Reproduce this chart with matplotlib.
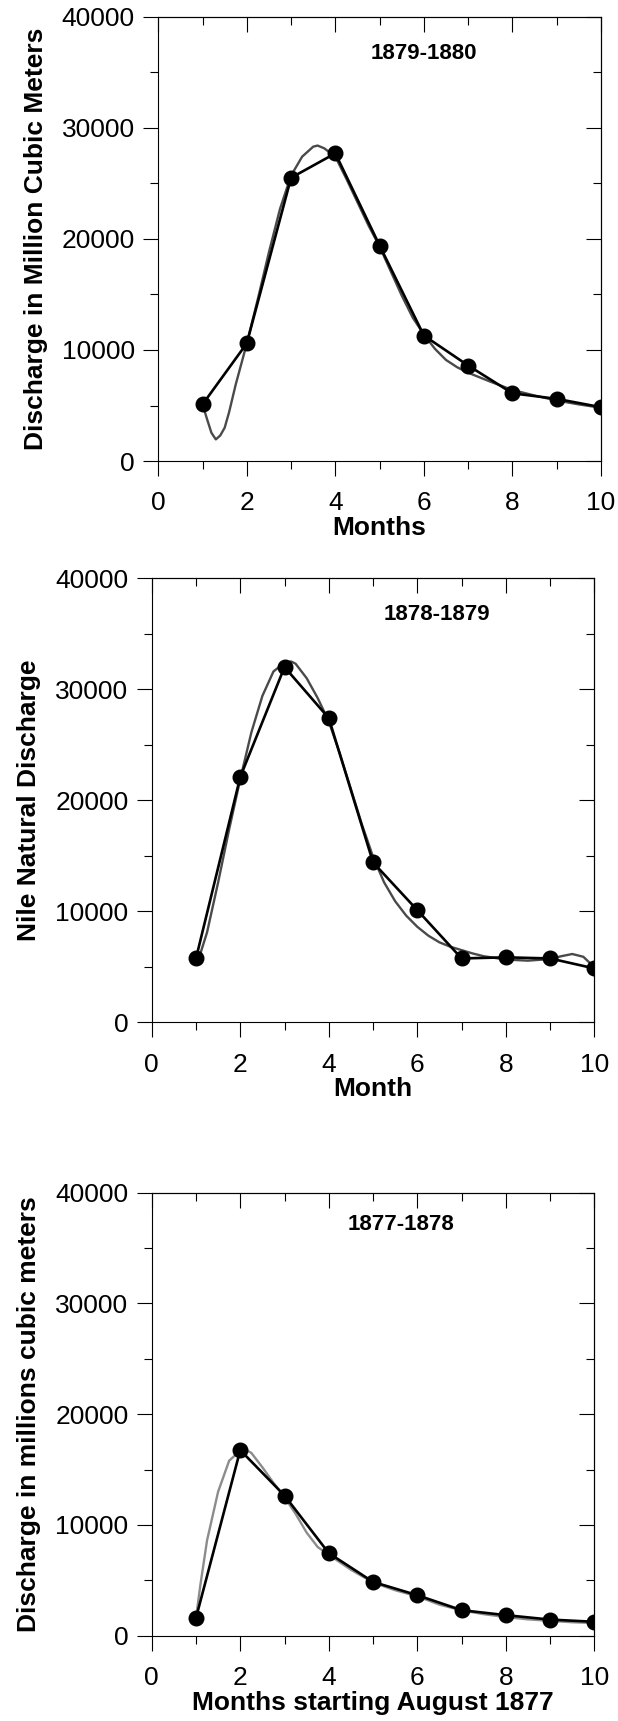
import matplotlib
matplotlib.use("Agg")
import matplotlib.pyplot as plt

plt.rcParams['font.family'] = ['Liberation Sans', 'DejaVu Sans']

# ---------------- data ----------------
months = [1, 2, 3, 4, 5, 6, 7, 8, 9, 10]

# 1879-1880
q_1879 = [5100, 10600, 25500, 27700, 19400, 11300, 8600, 6100, 5600, 4850]
fit_1879_x = [1.0, 1.1, 1.2, 1.3, 1.4, 1.5, 1.6, 1.75, 1.9, 2.0, 2.25, 2.5, 2.75, 3.0,
              3.25, 3.5, 3.6, 3.75, 4.0, 4.25, 4.5, 4.75, 5.0, 5.25, 5.5, 5.75, 6.0,
              6.25, 6.5, 6.75, 7.0, 7.5, 8.0, 8.5, 9.0, 9.5, 10.0]
fit_1879_y = [5100, 3800, 2550, 1950, 2300, 3000, 4400, 6900, 9100, 10600, 14600, 18800,
              22700, 25700, 27400, 28300, 28400, 28150, 27400, 25400, 23300, 21200, 19300,
              17100, 14900, 12900, 11400, 10100, 9100, 8450, 7950, 7150, 6400, 5900, 5450,
              5100, 4800]

# 1878-1879
q_1878 = [5750, 22100, 32000, 27400, 14400, 10100, 5750, 5850, 5750, 4850]
fit_1878_x = [1.0, 1.1, 1.25, 1.5, 1.75, 2.0, 2.25, 2.5, 2.75, 3.0, 3.15, 3.25, 3.5, 3.75,
              4.0, 4.25, 4.5, 4.75, 5.0, 5.25, 5.5, 5.75, 6.0, 6.25, 6.5, 6.75, 7.0, 7.25,
              7.5, 8.0, 8.5, 9.0, 9.25, 9.5, 9.75, 10.0]
fit_1878_y = [5600, 6200, 8100, 12600, 17400, 21900, 26100, 29400, 31600, 32400, 32500,
              32300, 31000, 29200, 27100, 24200, 21000, 17800, 14900, 12600, 10900, 9600,
              8600, 7800, 7200, 6800, 6500, 6200, 5950, 5650, 5550, 5700, 5950, 6150, 5900,
              4950]

# 1877-1878
q_1877 = [1600, 16750, 12650, 7450, 4850, 3650, 2300, 1850, 1450, 1250]
fit_1877_x = [1.0, 1.1, 1.25, 1.5, 1.75, 2.0, 2.1, 2.25, 2.5, 2.75, 3.0, 3.25, 3.5, 3.75,
              4.0, 4.5, 5.0, 5.5, 6.0, 6.5, 7.0, 7.5, 8.0, 8.5, 9.0, 9.5, 10.0]
fit_1877_y = [1600, 4600, 8600, 13000, 15800, 16700, 16850, 16500, 15200, 13800, 12500,
              11000, 9300, 8000, 7300, 5950, 4800, 4100, 3550, 2800, 2280, 1940, 1680,
              1470, 1340, 1210, 1140]

x_major = [0, 2, 4, 6, 8, 10]
x_minor = [1, 3, 5, 7, 9]
y_major = [0, 10000, 20000, 30000, 40000]
y_minor = [5000, 15000, 25000, 35000]

panels = [
    dict(pos=[0.2561, 0.7321, 0.7163, 0.2582], q=q_1879, fx=fit_1879_x, fy=fit_1879_y,
         fit_color='#4a4a4a', title='1879-1880', tx=6.0, ty=36700,
         ylabel='Discharge in Million Cubic Meters', xlabel='Months'),
    dict(pos=[0.2455, 0.4060, 0.7163, 0.2580], q=q_1878, fx=fit_1878_x, fy=fit_1878_y,
         fit_color='#4a4a4a', title='1878-1879', tx=6.45, ty=36700,
         ylabel='Nile Natural Discharge', xlabel='Month'),
    dict(pos=[0.2455, 0.0496, 0.7163, 0.2574], q=q_1877, fx=fit_1877_x, fy=fit_1877_y,
         fit_color='#8c8c8c', title='1877-1878', tx=5.62, ty=37100,
         ylabel='Discharge in millions cubic meters', xlabel='Months starting August 1877'),
]

fig = plt.figure(figsize=(6.18, 17.21), dpi=100)

TICK_FS = 19
LABEL_FS = 19
MAJ_LEN = 10.8
MIN_LEN = 5.6
LW = 0.8

for p in panels:
    ax = fig.add_axes(p['pos'])
    ax.plot(p['fx'], p['fy'], color=p['fit_color'], lw=1.7, solid_joinstyle='round',
            zorder=2)
    ax.plot(months, p['q'], color='black', lw=1.9, marker='o', ms=10.5,
            markerfacecolor='black', markeredgecolor='black', zorder=3)
    ax.set_xlim(0, 10)
    ax.set_ylim(0, 40000)
    ax.set_xticks(x_major)
    ax.set_xticks(x_minor, minor=True)
    ax.set_yticks(y_major)
    ax.set_yticks(y_minor, minor=True)
    ax.set_xticklabels([str(v) for v in x_major])
    ax.set_yticklabels([str(v) for v in y_major])
    for s in ax.spines.values():
        s.set_linewidth(LW)
    ax.tick_params(axis='both', which='both', direction='out', width=LW,
                   top=False, right=False, labelsize=TICK_FS)
    ax.tick_params(axis='both', which='major', length=MAJ_LEN)
    ax.tick_params(axis='both', which='minor', length=MIN_LEN)
    ax.tick_params(axis='x', which='major', pad=11)
    ax.tick_params(axis='y', which='major', pad=6)

    top = ax.secondary_xaxis('top')
    top.set_xticks(x_major)
    top.set_xticks(x_minor, minor=True)
    top.tick_params(axis='x', which='both', direction='in', width=LW, labeltop=False)
    top.tick_params(axis='x', which='major', length=MAJ_LEN)
    top.tick_params(axis='x', which='minor', length=MIN_LEN)
    top.spines['top'].set_linewidth(LW)

    right = ax.secondary_yaxis('right')
    right.set_yticks(y_major)
    right.set_yticks(y_minor, minor=True)
    right.tick_params(axis='y', which='both', direction='in', width=LW, labelright=False)
    right.tick_params(axis='y', which='major', length=MAJ_LEN)
    right.tick_params(axis='y', which='minor', length=MIN_LEN)
    right.spines['right'].set_linewidth(LW)

    ax.text(p['tx'], p['ty'], p['title'], ha='center', va='center',
            fontsize=16, fontweight='bold')
    ax.set_xlabel(p['xlabel'], fontsize=LABEL_FS, fontweight='bold')
    ax.xaxis.set_label_coords(0.5, -0.124)
    ax.set_ylabel(p['ylabel'], fontsize=LABEL_FS, fontweight='bold', labelpad=10)

fig.savefig('out.png', dpi=100)
